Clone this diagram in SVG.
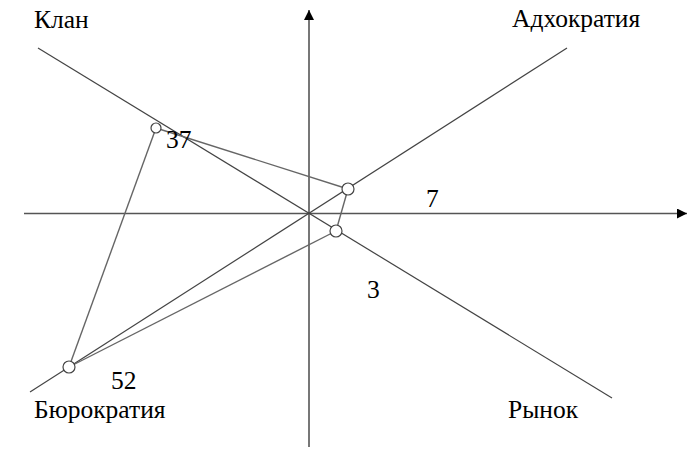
<svg xmlns="http://www.w3.org/2000/svg" width="694" height="455" viewBox="0 0 694 455">
<style>
.ax{stroke:#555;stroke-width:1.6;fill:none}
.dg{stroke:#444;stroke-width:1.2;fill:none}
.pl{stroke:#666;stroke-width:1.4;fill:none}
.pt{stroke:#444;stroke-width:1.2;fill:#fff}
.t{font-family:"Liberation Serif","Times New Roman",serif;font-size:25.5px;fill:#000}
</style>
<defs>
<marker id="ah" viewBox="0 0 10 10" refX="10" refY="5" markerWidth="10" markerHeight="10" markerUnits="userSpaceOnUse" orient="auto">
<path d="M0,0 L10,5 L0,10 Z" fill="#000"/>
</marker>
</defs>
<g id="connectors">
<line class="ax" x1="309" y1="447" x2="309" y2="10" marker-end="url(#ah)"/>
<line class="ax" x1="24" y1="213.5" x2="687" y2="213.5" marker-end="url(#ah)"/>
<line class="dg" x1="38" y1="48" x2="612" y2="398"/>
<line class="dg" x1="30" y1="392" x2="567" y2="48"/>
<line class="pl" x1="156" y1="128" x2="348" y2="189"/>
<line class="pl" x1="348" y1="189" x2="336" y2="231"/>
<line class="pl" x1="336" y1="231" x2="69" y2="367"/>
<line class="pl" x1="69" y1="367" x2="156" y2="128"/>
</g>
<g id="p37"><circle class="pt" cx="156" cy="128" r="5"/><text class="t" x="166" y="148">37</text></g>
<g id="p7"><circle class="pt" cx="348" cy="189" r="6"/><text class="t" x="426" y="207">7</text></g>
<g id="p3"><circle class="pt" cx="336" cy="231" r="6"/><text class="t" x="367" y="298">3</text></g>
<g id="p52"><circle class="pt" cx="69" cy="367" r="6"/><text class="t" x="111" y="389">52</text></g>
<g id="lbl-klan"><text class="t" x="34" y="28">Клан</text></g>
<g id="lbl-adho"><text class="t" x="512" y="27">Адхократия</text></g>
<g id="lbl-byuro"><text class="t" x="34" y="418">Бюрократия</text></g>
<g id="lbl-rynok"><text class="t" x="508" y="418">Рынок</text></g>
</svg>
